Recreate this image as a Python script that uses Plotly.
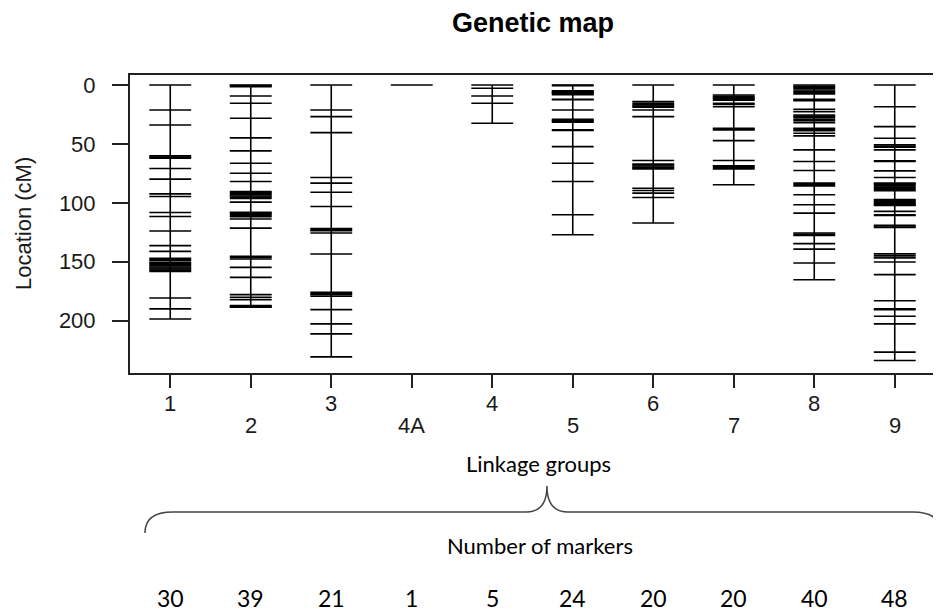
import plotly.graph_objects as go

# ---------------- data ----------------
group_labels = ["1", "2", "3", "4A", "4", "5", "6", "7", "8", "9"]

lg1 = [0, 21.2, 33.9, 60.2, 61.2, 62.1, 70.9, 79.9, 92.4, 94.6, 108.2, 111.6, 124, 136.4,
       141.2, 147.2, 148.1, 149, 150.6, 151.5, 152.5, 153.5, 154.5, 155.3, 156.2, 157.2,
       158.2, 180.8, 190.1, 198.6]
lg2 = [0, 0.4, 0.8, 1.5, 9.3, 15.5, 28.2, 44.9, 55.9, 66.4, 74.9, 81.9, 90.5, 91.2, 92.2,
       93.2, 94.2, 95.2, 96.3, 99.4, 108.0, 108.8, 109.7, 110.7, 111.8, 113.8, 121.5, 145.5,
       146.5, 147.7, 154.8, 163.3, 178, 180.2, 182.2, 187.3, 187.8, 188.2, 188.7]
lg3 = [0, 21.2, 26.8, 40.4, 78.5, 83.3, 91, 103.1, 121.8, 122.8, 123.7, 125.7, 143.5, 176,
       177, 178, 179.4, 190.7, 202.8, 211.3, 230.8]
lg4a = [0]
lg4 = [0, 2.8, 9.3, 15.5, 32.5]
lg5 = [0, 0.5, 5.0, 5.6, 6.1, 6.5, 7.0, 7.6, 8.2, 12.1, 12.5, 21.2, 29.2, 29.7, 30.4, 31.1,
       31.6, 38.1, 38.6, 52.3, 66.4, 81.9, 110.2, 127.1]
lg6 = [0, 14.1, 15.5, 16.9, 17.9, 18.9, 21.2, 26.8, 64.1, 67.0, 67.8, 68.8, 69.8, 70.5, 71.2,
       87.6, 89.5, 91.8, 95.5, 117.2]
lg7 = [0, 8.5, 9.5, 10.5, 11.3, 12.1, 13, 15.5, 16.5, 18.4, 36.7, 37.4, 38.1, 47.2, 64.1,
       68.5, 69.2, 70.2, 71.2, 84.7]
lg8 = [0, 1, 2, 3, 4.2, 5.3, 6.5, 7.5, 12.1, 12.7, 13.3, 20.6, 22.6, 25.4, 26.4, 27.4, 29.0,
       30.2, 31.9, 36.7, 37.7, 38.7, 41, 43.2, 55.1, 65, 72.6, 83.3, 84.4, 85.6, 93.2, 101.7,
       108.8, 125.7, 126.7, 127.7, 134.7, 139.3, 151.1, 165.3]
lg9 = [0, 18.4, 35.3, 45.2, 50.8, 52, 52.8, 55.1, 64.4, 64.9, 72.9, 78.5, 83.3, 83.9, 84.4,
       85.6, 86.7, 87.9, 88.8, 89.8, 97.3, 98, 98.8, 99.7, 100.5, 101.4, 101.9, 102.2, 107.3,
       110.2, 110.8, 119.0, 119.5, 120.6, 121, 143.2, 144.5, 146, 146.9, 150.3, 161, 183.1,
       190.1, 190.8, 196.3, 202.8, 226.8, 233.9]

marker_positions = [lg1, lg2, lg3, lg4a, lg4, lg5, lg6, lg7, lg8, lg9]
marker_counts = [30, 39, 21, 1, 5, 24, 20, 20, 40, 48]
y_ticks = [0, 50, 100, 150, 200]

# ---------------- figure ----------------
HALF = 0.26
fig = go.Figure()
for i, pos in enumerate(marker_positions):
    gx = i + 1
    # vertical backbone
    fig.add_trace(go.Scatter(x=[gx, gx], y=[min(pos), max(pos)], mode="lines",
                             line=dict(color="black", width=1.6),
                             hoverinfo="skip", showlegend=False))
    hx, hy = [], []
    for p in pos:
        hx += [gx - HALF, gx + HALF, None]
        hy += [p, p, None]
    fig.add_trace(go.Scatter(x=hx, y=hy, mode="lines",
                             line=dict(color="black", width=1.6),
                             hoverinfo="skip", showlegend=False))

R_FONT = "Liberation Sans, Arial, sans-serif"
C_FONT = "Lato, Open Sans, sans-serif"
TXT = "#1a1a1a"

# plot-area reference (window pixels): left 130, right 937, top 75, bottom 373
annotations = []
# title
annotations.append(dict(text="<b>Genetic map</b>", xref="paper", yref="paper", x=0.5, y=1,
                        yshift=75 - 23, xanchor="center", yanchor="middle", showarrow=False,
                        font=dict(family=R_FONT, size=27, color="black")))
# y axis title
annotations.append(dict(text="Location (cM)", xref="paper", yref="paper", x=0, y=0.5,
                        xshift=-107, textangle=-90, xanchor="center", yanchor="middle",
                        showarrow=False, font=dict(family=R_FONT, size=22, color=TXT)))
# staggered x tick labels
for i, lab in enumerate(group_labels):
    row_y = 403 if i % 2 == 0 else 425
    annotations.append(dict(text=lab, xref="x", yref="paper", x=i + 1, y=0,
                            yshift=373 - row_y, xanchor="center", yanchor="middle",
                            showarrow=False, font=dict(family=R_FONT, size=22, color=TXT)))
# axis label and brace texts
annotations.append(dict(text="Linkage groups", xref="paper", yref="paper", x=(540 - 130) / 807,
                        y=0, yshift=373 - 463, xanchor="center", yanchor="middle",
                        showarrow=False, font=dict(family=C_FONT, size=22, color="black")))
annotations.append(dict(text="Number of markers", xref="paper", yref="paper",
                        x=(541 - 130) / 807, y=0, yshift=373 - 545, xanchor="center",
                        yanchor="middle", showarrow=False,
                        font=dict(family=C_FONT, size=22, color="black")))
for i, n in enumerate(marker_counts):
    annotations.append(dict(text=str(n), xref="x", yref="paper", x=i + 1, y=0,
                            yshift=373 - 598, xanchor="center", yanchor="middle",
                            showarrow=False, font=dict(family=C_FONT, size=23, color="black")))


def px(x, y):
    return f"{(x - 130) / 807:.5f},{(373 - y) / 298:.5f}"


brace = ("M " + px(145, 533) + " Q " + px(145, 512) + " " + px(173, 512) +
         " L " + px(527, 512) + " Q " + px(548, 512) + " " + px(548, 486) +
         " Q " + px(548, 512) + " " + px(569, 512) +
         " L " + px(915, 512) + " Q " + px(943, 512) + " " + px(943, 534))

# the page body has an 8px margin, so the figure is 8px smaller and margins offset
fig.update_layout(
    width=933, height=603,
    margin=dict(l=122, r=4, t=67, b=238),
    paper_bgcolor="white", plot_bgcolor="white",
    annotations=annotations,
    shapes=[dict(type="path", path=brace, xref="paper", yref="paper",
                 line=dict(color="#444444", width=1.5))],
    xaxis=dict(range=[0.5, 10.5], tickvals=list(range(1, 11)), showticklabels=False,
               ticks="outside", ticklen=13, tickwidth=1.5, tickcolor="#222",
               showline=True, linecolor="#222", linewidth=2, mirror=True,
               showgrid=False, zeroline=False, fixedrange=True),
    yaxis=dict(range=[244.5, -8.5], tickvals=y_ticks, ticks="outside", ticklen=16,
               tickwidth=1.5, tickcolor="#222", ticklabelstandoff=12,
               tickfont=dict(family=R_FONT, size=22, color=TXT),
               showline=True, linecolor="#222", linewidth=2, mirror=True,
               showgrid=False, zeroline=False, fixedrange=True),
)

fig.write_html("out.html")
